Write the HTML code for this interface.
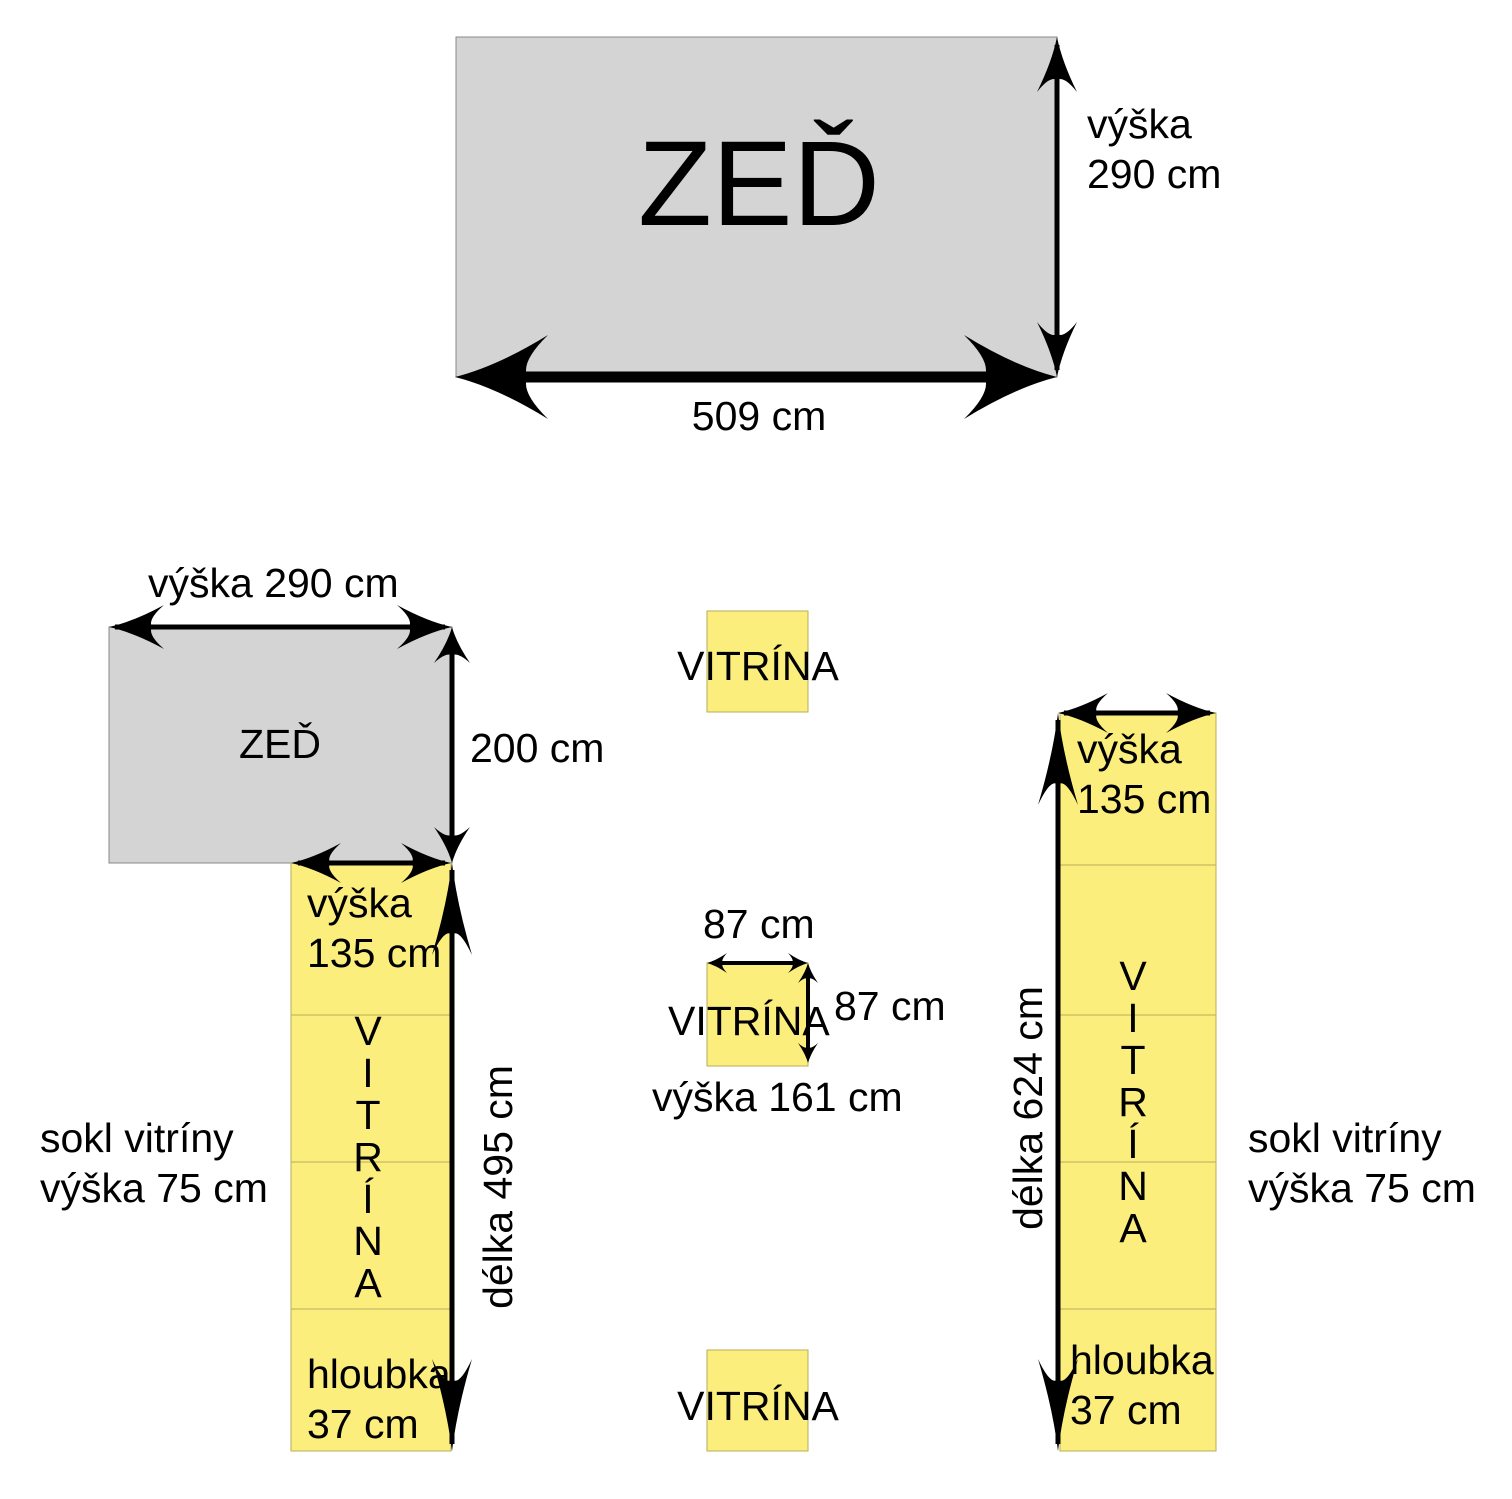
<!DOCTYPE html>
<html><head><meta charset="utf-8"><style>
html,body{margin:0;padding:0;background:#fff;}
svg{display:block;}
text{font-family:"Liberation Sans",sans-serif;fill:#000;}
</style></head><body>
<svg width="1512" height="1499" viewBox="0 0 1512 1499" xmlns="http://www.w3.org/2000/svg">
<defs>
<path id="ah" d="M0,0 Q0.45,-0.25 1,-1 Q0.7,-0.35 0.78,0 Q0.7,0.35 1,1 Q0.45,0.25 0,0Z" fill="#000"/>
</defs>
<!-- top wall -->
<rect x="456" y="37" width="601" height="340" fill="#d4d4d4" stroke="#888" stroke-width="1"/>
<text x="759" y="225" font-size="121" text-anchor="middle">ZEĎ</text>
<line x1="1057" y1="45" x2="1057" y2="370" stroke="#000" stroke-width="5"/>
<use href="#ah" transform="translate(1057,37) rotate(90) scale(55,20)"/>
<use href="#ah" transform="translate(1057,377) rotate(-90) scale(55,20)"/>
<line x1="500" y1="377" x2="1010" y2="377" stroke="#000" stroke-width="11"/>
<use href="#ah" transform="translate(455,377) scale(93,42)"/>
<use href="#ah" transform="translate(1057,377) rotate(180) scale(93,42)"/>
<text x="1087" y="138" font-size="41">výška</text>
<text x="1087" y="188" font-size="41">290 cm</text>
<text x="759" y="430" font-size="41" text-anchor="middle">509 cm</text>

<!-- left wall -->
<rect x="109" y="627" width="343" height="236" fill="#d4d4d4" stroke="#888" stroke-width="1"/>
<text x="280" y="758" font-size="41" text-anchor="middle">ZEĎ</text>
<line x1="115" y1="627" x2="445" y2="627" stroke="#000" stroke-width="5"/>
<use href="#ah" transform="translate(109,627) scale(55,22)"/>
<use href="#ah" transform="translate(452,627) rotate(180) scale(55,22)"/>
<text x="148" y="597" font-size="41">výška 290 cm</text>
<line x1="452" y1="635" x2="452" y2="856" stroke="#000" stroke-width="5"/>
<use href="#ah" transform="translate(452,627) rotate(90) scale(36,18)"/>
<use href="#ah" transform="translate(452,863) rotate(-90) scale(36,18)"/>
<text x="470" y="762" font-size="41">200 cm</text>

<!-- left column -->
<rect x="291" y="863" width="160" height="588" fill="#fbee7d" stroke="#b8ad5a" stroke-width="1"/>
<line x1="291" y1="1015" x2="451" y2="1015" stroke="#b8ad5a"/>
<line x1="291" y1="1162" x2="451" y2="1162" stroke="#b8ad5a"/>
<line x1="291" y1="1309" x2="451" y2="1309" stroke="#b8ad5a"/>
<line x1="298" y1="863" x2="445" y2="863" stroke="#000" stroke-width="5"/>
<use href="#ah" transform="translate(291,863) scale(50,20)"/>
<use href="#ah" transform="translate(451,863) rotate(180) scale(50,20)"/>
<line x1="452" y1="870" x2="452" y2="1444" stroke="#000" stroke-width="5"/>
<use href="#ah" transform="translate(452,863) rotate(90) scale(92,20)"/>
<use href="#ah" transform="translate(452,1451) rotate(-90) scale(92,20)"/>
<text x="307" y="917" font-size="41">výška</text>
<text x="307" y="967" font-size="41">135 cm</text>
<g font-size="41" text-anchor="middle">
<text x="368" y="1045">V</text><text x="368" y="1087">I</text><text x="368" y="1129">T</text><text x="368" y="1171">R</text><text x="368" y="1213">Í</text><text x="368" y="1255">N</text><text x="368" y="1297">A</text>
</g>
<text x="307" y="1388" font-size="41">hloubka</text>
<text x="307" y="1438" font-size="41">37 cm</text>
<text transform="translate(512,1187) rotate(-90)" font-size="41" text-anchor="middle">délka 495 cm</text>
<text x="40" y="1152" font-size="41">sokl vitríny</text>
<text x="40" y="1202" font-size="41">výška 75 cm</text>

<!-- center -->
<rect x="707" y="611" width="101" height="101" fill="#fbee7d" stroke="#b8ad5a"/>
<text x="758" y="680" font-size="41" text-anchor="middle">VITRÍNA</text>
<rect x="707" y="963" width="101" height="103" fill="#fbee7d" stroke="#b8ad5a"/>
<line x1="712" y1="963" x2="803" y2="963" stroke="#000" stroke-width="4"/>
<use href="#ah" transform="translate(707,963) scale(20,10)"/>
<use href="#ah" transform="translate(808,963) rotate(180) scale(20,10)"/>
<line x1="808" y1="968" x2="808" y2="1058" stroke="#000" stroke-width="4"/>
<use href="#ah" transform="translate(808,963) rotate(90) scale(20,10)"/>
<use href="#ah" transform="translate(808,1063) rotate(-90) scale(20,10)"/>
<text x="703" y="938" font-size="41">87 cm</text>
<text x="668" y="1035" font-size="41">VITRÍNA</text>
<text x="834" y="1020" font-size="41">87 cm</text>
<text x="652" y="1111" font-size="41">výška 161 cm</text>
<rect x="707" y="1350" width="101" height="101" fill="#fbee7d" stroke="#b8ad5a"/>
<text x="758" y="1420" font-size="41" text-anchor="middle">VITRÍNA</text>

<!-- right column -->
<rect x="1060" y="713" width="156" height="738" fill="#fbee7d" stroke="#b8ad5a"/>
<line x1="1060" y1="865" x2="1216" y2="865" stroke="#b8ad5a"/>
<line x1="1060" y1="1015" x2="1216" y2="1015" stroke="#b8ad5a"/>
<line x1="1060" y1="1162" x2="1216" y2="1162" stroke="#b8ad5a"/>
<line x1="1060" y1="1309" x2="1216" y2="1309" stroke="#b8ad5a"/>
<line x1="1064" y1="713" x2="1210" y2="713" stroke="#000" stroke-width="5"/>
<use href="#ah" transform="translate(1058,713) scale(50,20)"/>
<use href="#ah" transform="translate(1216,713) rotate(180) scale(50,20)"/>
<line x1="1058" y1="720" x2="1058" y2="1444" stroke="#000" stroke-width="5"/>
<use href="#ah" transform="translate(1058,713) rotate(90) scale(92,20)"/>
<use href="#ah" transform="translate(1058,1451) rotate(-90) scale(92,20)"/>
<text x="1077" y="763" font-size="41">výška</text>
<text x="1077" y="813" font-size="41">135 cm</text>
<g font-size="41" text-anchor="middle">
<text x="1133" y="990">V</text><text x="1133" y="1032">I</text><text x="1133" y="1074">T</text><text x="1133" y="1116">R</text><text x="1133" y="1158">Í</text><text x="1133" y="1200">N</text><text x="1133" y="1242">A</text>
</g>
<text x="1070" y="1374" font-size="41">hloubka</text>
<text x="1070" y="1424" font-size="41">37 cm</text>
<text transform="translate(1042,1108) rotate(-90)" font-size="41" text-anchor="middle">délka 624 cm</text>
<text x="1248" y="1152" font-size="41">sokl vitríny</text>
<text x="1248" y="1202" font-size="41">výška 75 cm</text>
</svg>
</body></html>
